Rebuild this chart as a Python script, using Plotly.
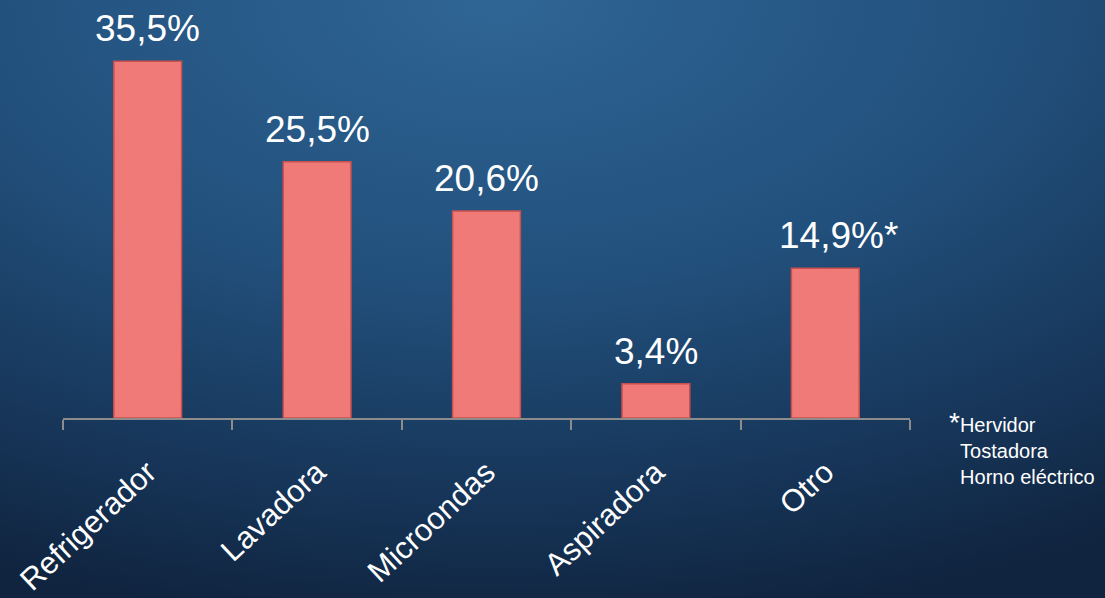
import base64
import plotly.graph_objects as go

categories = ["Refrigerador", "Lavadora", "Microondas", "Aspiradora", "Otro"]
values = [35.5, 25.5, 20.6, 3.4, 14.9]
value_labels = ["35,5%", "25,5%", "20,6%", "3,4%", "14,9%*"]
footnote_items = ["Hervidor", "Tostadora", "Horno eléctrico"]

W, H = 1105, 598
FONT = "Liberation Sans, Arial, sans-serif"

svg = f"""<svg xmlns='http://www.w3.org/2000/svg' width='{W}' height='{H}' viewBox='0 0 {W} {H}'>
<defs>
<radialGradient id='g' cx='0.45' cy='0.0' r='1.05' fx='0.45' fy='0.0'>
<stop offset='0' stop-color='#2f6595'/>
<stop offset='0.45' stop-color='#22507c'/>
<stop offset='0.8' stop-color='#163457'/>
<stop offset='1' stop-color='#10243f'/>
</radialGradient>
</defs>
<rect width='{W}' height='{H}' fill='url(#g)'/>
</svg>"""
bg_src = "data:image/svg+xml;base64," + base64.b64encode(svg.encode()).decode()

fig = go.Figure()
fig.add_trace(go.Bar(
    x=categories,
    y=values,
    width=0.4,
    marker=dict(color="#ef7a77", line=dict(color="#c9504d", width=1.5)),
    hoverinfo="skip",
))

for c, v, t in zip(categories, values, value_labels):
    fig.add_annotation(
        x=c, y=v, text=t, showarrow=False, yanchor="bottom", yshift=10,
        xshift=13 if t.endswith("*") else 0,
        font=dict(family=FONT, size=37, color="white"),
    )

foot = ("<span style='font-size:28px'>*</span>" + footnote_items[0] + "<br>&nbsp;&nbsp;"
        + "<br>&nbsp;&nbsp;".join(footnote_items[1:]))
fig.add_annotation(
    xref="paper", yref="paper", x=(947 - 63) / 847, y=(418 - 405) / 402,
    xanchor="left", yanchor="top",
    text=foot, showarrow=False, align="left",
    font=dict(family=FONT, size=20, color="white"),
)

fig.update_layout(
    width=W, height=H,
    margin=dict(l=63, r=195, t=16, b=180, autoexpand=False),
    paper_bgcolor="#1a3a5e",
    plot_bgcolor="rgba(0,0,0,0)",
    showlegend=False,
    images=[dict(source=bg_src, xref="paper", yref="paper", x=-63/847, y=1+16/402,
                 sizex=W/847, sizey=H/402, xanchor="left", yanchor="top",
                 sizing="stretch", layer="below")],
    xaxis=dict(
        automargin=False,
        showline=True, linecolor="#8c8c8c", linewidth=1.5,
        ticks="outside", tickcolor="#8c8c8c", ticklen=10, tickwidth=1.5,
        tickson="boundaries", tickangle=-43, ticklabelstandoff=22,
        tickfont=dict(family=FONT, size=31, color="white"),
        showgrid=False, zeroline=False,
    ),
    yaxis=dict(range=[0, 40], visible=False, showgrid=False, zeroline=False, automargin=False),
)

fig.write_html("out.html", config={"displayModeBar": False},
               post_script="document.body.style.margin='0';document.body.style.overflow='hidden';")
